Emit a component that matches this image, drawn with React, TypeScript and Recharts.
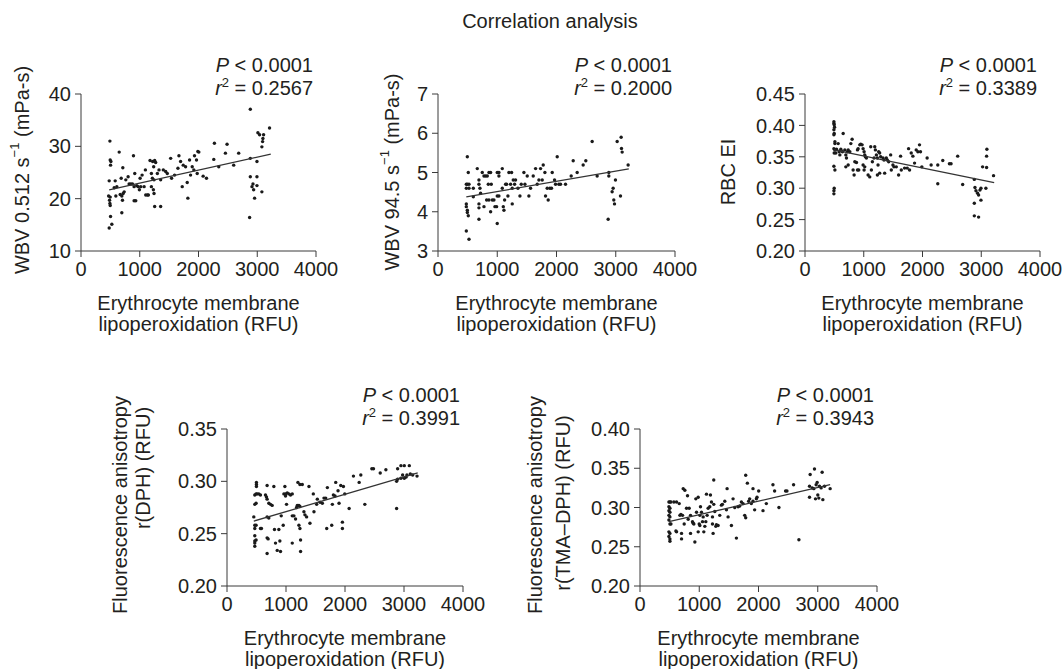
import React from 'react';
import { ScatterChart, Scatter, XAxis, YAxis } from 'recharts';

const FONT = '"Liberation Sans", Arial, Helvetica, sans-serif';
const FS = 20;
const INK = '#231f20';

// x ticks shared by all panels (RFU)
const xTicks = [0, 1000, 2000, 3000, 4000];

// WBV 0.512 s-1 vs lipoperoxidation
const wbv512Points = [
  [492, 31.0], [497, 27.4], [509, 27.1], [503, 26.4], [480, 23.4], [470, 20.5], [497, 20.3], [486, 19.7], [492, 19.1], [497, 18.7], [503, 16.6], [525, 15.1], [480, 14.4],
  [650, 28.9], [582, 23.4], [565, 22.1], [610, 22.3], [593, 20.5], [667, 20.8], [695, 20.5], [718, 21.0], [735, 21.3], [706, 19.7], [695, 17.3],
  [712, 25.9], [684, 23.9], [763, 23.6], [802, 24.2], [819, 22.8], [848, 22.8], [876, 22.8], [893, 28.2], [904, 22.3], [915, 24.8], [904, 19.6], [932, 19.6],
  [949, 22.5], [972, 22.3], [994, 21.7], [1006, 23.9], [1017, 22.3], [1040, 24.5], [1074, 22.3], [1096, 25.5], [1102, 20.7], [1130, 20.7], [1147, 20.7],
  [1175, 27.3], [1198, 24.8], [1220, 27.1], [1237, 26.1], [1254, 27.3], [1271, 26.9], [1215, 23.9], [1243, 23.6], [1198, 22.3], [1232, 21.7], [1243, 21.0],
  [1254, 18.5], [1356, 18.5], [1300, 24.8], [1328, 25.5], [1356, 23.6], [1401, 25.5], [1441, 25.2],
  [1469, 24.8], [1526, 27.7], [1542, 23.9], [1593, 24.5], [1650, 25.8], [1667, 28.2], [1695, 27.1], [1723, 22.3], [1740, 26.4], [1780, 26.1], [1808, 23.1], [1819, 20.1],
  [1848, 27.4], [1865, 24.5], [1893, 26.1], [1921, 25.5], [1932, 28.2], [1966, 27.4], [1978, 24.8], [1989, 29.0], [2006, 28.9],
  [2079, 24.3], [2136, 23.9], [2260, 27.5], [2271, 30.6], [2345, 26.1], [2458, 28.7], [2486, 30.4], [2599, 26.4], [2684, 28.7],
  [2882, 37.1], [2882, 27.7], [2882, 24.2], [2870, 16.4], [2910, 22.3], [2927, 22.8], [2938, 21.7], [2955, 20.1], [2995, 24.2], [2995, 27.1], [2995, 22.5],
  [3011, 32.6], [3040, 32.2], [3079, 21.3], [3079, 29.9], [3091, 30.9], [3096, 31.5], [3108, 32.2], [3209, 33.5],
];
const wbv512Fit = [[480, 21.7], [3230, 28.5]];

// WBV 94.5 s-1 vs lipoperoxidation
const wbv945Points = [
  [495, 5.40], [478, 4.70], [495, 4.70], [523, 4.70], [511, 5.00], [478, 4.60], [523, 4.60], [478, 4.20], [478, 4.13], [495, 4.04], [495, 3.98], [511, 3.90], [478, 3.51], [523, 3.30],
  [596, 4.60], [596, 4.38], [663, 5.10], [691, 4.81], [691, 4.70], [708, 4.60], [719, 4.47], [691, 4.20], [691, 4.10], [691, 3.81],
  [747, 5.00], [776, 4.91], [804, 4.91], [832, 4.91], [860, 5.00], [888, 5.00],
  [776, 4.13], [821, 4.30], [849, 4.70], [860, 4.30], [888, 4.00], [916, 4.30], [899, 4.70], [944, 4.30], [961, 4.13], [989, 4.13],
  [1000, 3.70], [1000, 5.00], [1028, 5.00], [1028, 4.91], [1085, 5.10],
  [1000, 4.40], [1028, 4.40], [1085, 4.60], [1102, 4.13], [1113, 4.04], [1124, 4.30], [1141, 4.70], [1158, 4.70], [1180, 4.40],
  [1197, 5.00], [1225, 4.70], [1242, 5.00], [1253, 4.60], [1270, 4.81], [1293, 4.70], [1309, 4.81], [1253, 4.20],
  [1349, 4.60], [1383, 4.40], [1405, 4.70], [1450, 5.00], [1467, 4.70], [1506, 4.91], [1534, 4.40], [1562, 4.60],
  [1607, 4.91], [1647, 5.10], [1675, 4.70], [1703, 4.81], [1731, 5.10], [1759, 4.81], [1776, 5.19], [1804, 5.00], [1815, 4.40], [1843, 4.60], [1860, 4.30], [1888, 4.60], [1916, 4.60], [1928, 5.00],
  [1967, 4.81], [1984, 4.70], [2012, 5.40], [2040, 4.70], [2068, 4.70], [2152, 4.70],
  [2248, 4.91], [2282, 5.30], [2349, 5.00], [2450, 5.19], [2495, 5.30], [2602, 5.79], [2686, 4.91],
  [2883, 5.00], [2883, 4.91], [2872, 3.81], [2939, 4.51], [2956, 4.60], [2967, 4.30], [2979, 4.20], [2995, 4.81], [3024, 5.79], [3080, 4.40], [3091, 5.90], [3097, 5.61], [3108, 5.52], [3209, 5.19],
];
const wbv945Fit = [[478, 4.38], [3220, 5.09]];

// RBC elongation index vs lipoperoxidation
const rbcEiPoints = [
  [492, 0.406], [492, 0.403], [497, 0.401], [503, 0.397], [492, 0.393], [497, 0.387], [492, 0.385], [509, 0.374], [509, 0.371], [492, 0.363], [509, 0.361], [497, 0.356], [525, 0.356], [492, 0.335], [509, 0.329], [497, 0.300], [492, 0.296], [492, 0.291],
  [537, 0.362], [565, 0.371], [582, 0.358], [593, 0.353], [610, 0.362], [650, 0.387], [638, 0.358],
  [678, 0.361], [695, 0.353], [706, 0.348], [723, 0.358], [735, 0.361], [695, 0.334], [735, 0.337],
  [780, 0.371], [802, 0.378], [763, 0.358], [819, 0.329], [836, 0.321], [848, 0.342], [876, 0.341], [893, 0.329], [915, 0.329],
  [893, 0.361], [904, 0.363], [932, 0.369], [949, 0.370], [972, 0.369], [989, 0.363], [1006, 0.358], [1017, 0.353], [1028, 0.350], [989, 0.337], [1017, 0.334], [1006, 0.329],
  [1045, 0.348], [1074, 0.321], [1102, 0.318], [1119, 0.366], [1130, 0.329], [1147, 0.342], [1175, 0.348], [1187, 0.366], [1198, 0.361],
  [1215, 0.353], [1232, 0.348], [1243, 0.337], [1254, 0.358], [1271, 0.356], [1288, 0.350], [1232, 0.321], [1271, 0.324],
  [1328, 0.348], [1345, 0.345], [1356, 0.324], [1384, 0.348], [1401, 0.345], [1424, 0.342], [1458, 0.353], [1469, 0.329], [1497, 0.337], [1514, 0.334], [1554, 0.334], [1593, 0.321], [1627, 0.351], [1639, 0.329],
  [1695, 0.332], [1740, 0.332], [1763, 0.363], [1780, 0.329], [1808, 0.356], [1836, 0.351], [1865, 0.340], [1893, 0.361], [1921, 0.358], [1949, 0.369], [1966, 0.358], [1989, 0.334],
  [2079, 0.348], [2147, 0.337], [2260, 0.307], [2260, 0.337], [2345, 0.344], [2458, 0.339], [2486, 0.339], [2599, 0.351], [2684, 0.306],
  [2882, 0.314], [2893, 0.301], [2910, 0.296], [2938, 0.292], [2955, 0.289], [2978, 0.297], [2995, 0.281], [2882, 0.276], [2882, 0.256], [2955, 0.254],
  [3023, 0.334], [2995, 0.300], [3079, 0.300], [3091, 0.333], [3091, 0.351], [3096, 0.362], [3209, 0.320],
];
const rbcEiFit = [[492, 0.361], [3220, 0.309]];

// r(DPH) vs lipoperoxidation
const dphPoints = [
  [499, 0.299], [499, 0.297], [499, 0.295], [471, 0.287], [493, 0.288], [510, 0.288], [539, 0.288], [567, 0.287], [471, 0.278], [493, 0.279], [454, 0.266], [471, 0.258], [493, 0.258], [471, 0.255], [471, 0.248], [493, 0.244], [471, 0.243], [471, 0.241], [471, 0.238], [567, 0.255], [584, 0.255],
  [680, 0.296], [652, 0.287], [669, 0.285], [680, 0.283], [709, 0.279], [737, 0.278], [765, 0.277], [680, 0.266], [709, 0.265], [794, 0.295],
  [680, 0.246], [697, 0.245], [680, 0.231], [805, 0.254], [822, 0.241], [851, 0.234], [879, 0.254], [896, 0.243], [907, 0.233], [919, 0.267], [953, 0.258],
  [981, 0.295], [964, 0.288], [992, 0.288], [1021, 0.289], [1009, 0.278], [992, 0.286], [1049, 0.288], [1077, 0.287], [1106, 0.288],
  [1106, 0.267], [1106, 0.241], [1134, 0.267], [1162, 0.264], [1179, 0.275], [1191, 0.277], [1219, 0.277], [1236, 0.276], [1202, 0.299], [1236, 0.297], [1276, 0.297], [1219, 0.258], [1236, 0.255], [1247, 0.244], [1247, 0.233],
  [1304, 0.271], [1321, 0.268], [1349, 0.266], [1389, 0.295], [1406, 0.260], [1463, 0.288], [1474, 0.271], [1520, 0.278], [1531, 0.283], [1576, 0.280], [1616, 0.279], [1644, 0.284],
  [1673, 0.284], [1690, 0.255], [1701, 0.294], [1775, 0.258], [1786, 0.278], [1803, 0.287], [1831, 0.286], [1843, 0.299], [1882, 0.291], [1899, 0.279], [1928, 0.296], [1956, 0.261], [1956, 0.255], [1973, 0.295], [1996, 0.288],
  [2070, 0.274], [2143, 0.305], [2240, 0.299], [2268, 0.306], [2336, 0.278], [2455, 0.312], [2483, 0.312], [2597, 0.308], [2693, 0.311],
  [2875, 0.274], [2875, 0.300], [2892, 0.312], [2892, 0.302], [2948, 0.315], [2977, 0.306], [3005, 0.315], [3033, 0.304], [3050, 0.306], [3090, 0.315], [3107, 0.307], [3147, 0.306], [3221, 0.305], [2948, 0.303], [3005, 0.303],
];
const dphFit = [[454, 0.262], [3232, 0.308]];

// r(TMA-DPH) vs lipoperoxidation
const tmaPoints = [
  [488, 0.307], [505, 0.307], [522, 0.307], [488, 0.301], [505, 0.299], [488, 0.296], [505, 0.294], [488, 0.290], [505, 0.288], [488, 0.284], [505, 0.279], [522, 0.279], [488, 0.269], [505, 0.267], [488, 0.263], [505, 0.260], [505, 0.257],
  [572, 0.307], [617, 0.269], [617, 0.307], [662, 0.305], [606, 0.270], [673, 0.290], [690, 0.291], [718, 0.290], [701, 0.267], [701, 0.260],
  [729, 0.324], [757, 0.322], [746, 0.279], [785, 0.299], [802, 0.315], [813, 0.285], [830, 0.299], [853, 0.290], [853, 0.267], [886, 0.282], [898, 0.280], [909, 0.279], [926, 0.256], [942, 0.311], [954, 0.294], [982, 0.313], [982, 0.269], [999, 0.279], [1010, 0.277],
  [1010, 0.290], [1021, 0.301], [1038, 0.294], [1055, 0.282], [1066, 0.288], [1077, 0.269], [1094, 0.276], [1111, 0.282], [1122, 0.317], [1133, 0.290], [1150, 0.299], [1178, 0.301], [1189, 0.316], [1206, 0.307], [1223, 0.288], [1223, 0.279], [1234, 0.267], [1245, 0.335], [1245, 0.304], [1262, 0.295], [1279, 0.276], [1290, 0.278], [1318, 0.277],
  [1346, 0.290], [1374, 0.303], [1391, 0.304], [1431, 0.308], [1459, 0.297], [1470, 0.324], [1487, 0.288], [1543, 0.277], [1571, 0.311], [1599, 0.300], [1627, 0.261], [1655, 0.301], [1683, 0.302], [1711, 0.307], [1739, 0.305], [1767, 0.290],
  [1784, 0.341], [1784, 0.287], [1812, 0.331], [1834, 0.308], [1851, 0.311], [1879, 0.305], [1907, 0.324], [1907, 0.308], [1935, 0.297], [1964, 0.311], [1975, 0.313], [2003, 0.321], [2076, 0.296], [2132, 0.305], [2244, 0.329], [2272, 0.321], [2345, 0.300], [2457, 0.321], [2480, 0.321], [2592, 0.329], [2682, 0.259],
  [2861, 0.327], [2861, 0.313], [2872, 0.342], [2906, 0.325], [2934, 0.324], [2945, 0.349], [2962, 0.311], [2973, 0.329], [2990, 0.332], [3001, 0.316], [3018, 0.312], [3029, 0.327], [3057, 0.325], [3074, 0.345], [3086, 0.310], [3114, 0.327], [3209, 0.324],
];
const tmaFit = [[488, 0.282], [3209, 0.329]];

const wbv512Ticks = [10, 20, 30, 40];
const wbv945Ticks = [3, 4, 5, 6, 7];
const rbcEiTicks = [0.2, 0.25, 0.3, 0.35, 0.4, 0.45];
const dphTicks = [0.2, 0.25, 0.3, 0.35];
const tmaTicks = [0.2, 0.25, 0.3, 0.35, 0.4];

const r2Values = ['0.2567', '0.2000', '0.3389', '0.3991', '0.3943'];

const toXY = (pts: number[][]) => pts.map(([x, y]) => ({ x, y }));

// plot boxes in page pixels
const YW = 56;
const XH = 34;
const M = { top: 10, right: 34, bottom: 4, left: 4 };

const panels = [
  { box: { l: 81, r: 316, t: 94, b: 251 }, pts: wbv512Points, fit: wbv512Fit, ticks: wbv512Ticks, dec: 0, pY: 72, r2Y: 95 },
  { box: { l: 438, r: 675, t: 94, b: 251 }, pts: wbv945Points, fit: wbv945Fit, ticks: wbv945Ticks, dec: 0, pY: 72, r2Y: 95 },
  { box: { l: 805, r: 1040, t: 94, b: 251 }, pts: rbcEiPoints, fit: rbcEiFit, ticks: rbcEiTicks, dec: 2, pY: 72, r2Y: 95 },
  { box: { l: 227, r: 463, t: 429, b: 586 }, pts: dphPoints, fit: dphFit, ticks: dphTicks, dec: 2, pY: 402, r2Y: 425 },
  { box: { l: 640, r: 877, t: 429, b: 586 }, pts: tmaPoints, fit: tmaFit, ticks: tmaTicks, dec: 2, pY: 402, r2Y: 425 },
];

const Dot = (p: any) => <circle cx={p.cx} cy={p.cy} r={1.7} fill="#1a1a1a" />;
const NoDot = () => <g />;

function Panel({ cfg }: { cfg: any }) {
  const { box, ticks, dec } = cfg;
  const w = box.r - box.l + YW + M.left + M.right;
  const h = box.b - box.t + XH + M.top + M.bottom;
  const tickStyle = { fill: INK, fontSize: FS, fontFamily: FONT };
  return (
    <div style={{ position: 'absolute', left: box.l - YW - M.left, top: box.t - M.top }}>
      <ScatterChart width={w} height={h} margin={M}>
        <XAxis
          type="number"
          dataKey="x"
          domain={[0, 4000]}
          ticks={xTicks}
          interval={0}
          height={XH}
          tick={tickStyle}
          tickSize={6}
          tickMargin={5}
          axisLine={{ stroke: '#3a3a3a' }}
          tickLine={{ stroke: '#3a3a3a' }}
        />
        <YAxis
          type="number"
          dataKey="y"
          domain={[ticks[0], ticks[ticks.length - 1]]}
          ticks={ticks}
          interval={0}
          width={YW}
          tick={tickStyle}
          tickSize={6}
          tickMargin={4}
          tickFormatter={(v: number) => v.toFixed(dec)}
          axisLine={{ stroke: '#3a3a3a' }}
          tickLine={{ stroke: '#3a3a3a' }}
        />
        <Scatter data={toXY(cfg.pts)} shape={Dot} isAnimationActive={false} />
        <Scatter data={toXY(cfg.fit)} shape={NoDot} line={{ stroke: '#333', strokeWidth: 1.3 }} isAnimationActive={false} />
      </ScatterChart>
    </div>
  );
}

function Labels() {
  const t = { fill: INK, fontSize: FS, fontFamily: FONT };
  return (
    <svg width={1064} height={669} style={{ position: 'absolute', left: 0, top: 0, pointerEvents: 'none' }}>
      <text x={550} y={28} textAnchor="middle" {...t}>Correlation analysis</text>
      {panels.map((p, i) => {
        const cx = (p.box.l + p.box.r) / 2;
        return (
          <g key={i}>
            <text x={p.box.r - 3} y={p.pY} textAnchor="end" {...t}>
              <tspan fontStyle="italic">P</tspan> &lt; 0.0001
            </text>
            <text x={p.box.r - 3} y={p.r2Y} textAnchor="end" {...t}>
              <tspan fontStyle="italic">r</tspan>
              <tspan dy={-8} fontSize={13}>2</tspan>
              <tspan dy={8}> = {r2Values[i]}</tspan>
            </text>
            <text x={cx} y={p.box.b + 59} textAnchor="middle" {...t}>Erythrocyte membrane</text>
            <text x={cx} y={p.box.b + 80} textAnchor="middle" {...t}>lipoperoxidation (RFU)</text>
          </g>
        );
      })}
      <text transform="translate(22,170) rotate(-90)" textAnchor="middle" dominantBaseline="central" {...t}>
        WBV 0.512 s<tspan dy={-8} fontSize={13}>−1</tspan><tspan dy={8}> (mPa-s)</tspan>
      </text>
      <text transform="translate(392,172) rotate(-90)" textAnchor="middle" dominantBaseline="central" {...t}>
        WBV 94.5 s<tspan dy={-8} fontSize={13}>−1</tspan><tspan dy={8}> (mPa-s)</tspan>
      </text>
      <text transform="translate(728,172) rotate(-90)" textAnchor="middle" dominantBaseline="central" {...t}>RBC EI</text>
      <text transform="translate(120,505) rotate(-90)" textAnchor="middle" dominantBaseline="central" {...t}>Fluorescence anisotropy</text>
      <text transform="translate(143,468) rotate(-90)" textAnchor="middle" dominantBaseline="central" {...t}>r(DPH) (RFU)</text>
      <text transform="translate(535,505) rotate(-90)" textAnchor="middle" dominantBaseline="central" {...t}>Fluorescence anisotropy</text>
      <text transform="translate(563,503) rotate(-90)" textAnchor="middle" dominantBaseline="central" {...t}>r(TMA–DPH) (RFU)</text>
    </svg>
  );
}

export default function App() {
  return (
    <div style={{ position: 'absolute', left: 0, top: 0, width: 1064, height: 669, background: '#fff', fontFamily: FONT }}>
      {panels.map((p, i) => (
        <Panel key={i} cfg={p} />
      ))}
      <Labels />
    </div>
  );
}
